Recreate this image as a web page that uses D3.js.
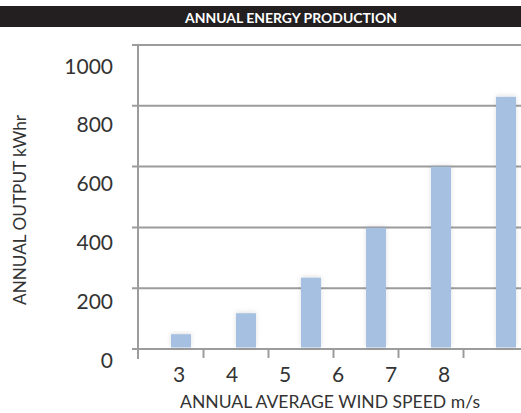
<!DOCTYPE html>
<html><head><meta charset="utf-8">
<script src="https://cdn.jsdelivr.net/npm/d3@7"></script>
<style>body{margin:0;background:#fff}svg{display:block}</style>
</head><body>
<svg id="c" width="521" height="413"></svg>
<script>
const title = "ANNUAL ENERGY PRODUCTION";
const xTitle = "ANNUAL AVERAGE WIND SPEED m/s";
const yTitle = "ANNUAL OUTPUT kWhr";
const windSpeeds = [3, 4, 5, 6, 7, 8];
const outputs = [47, 116, 233, 397, 598, 828];
const yTicks = [0, 200, 400, 600, 800, 1000];
const xTickLabels = ["3", "4", "5", "6", "7", "8"];

const svg = d3.select("#c");
const font = "Lato, 'Open Sans', sans-serif";
const gridCol = "#9c9c9c";

// title bar
svg.append("rect").attr("x",0).attr("y",6).attr("width",521).attr("height",21).attr("fill","#231f20");
svg.append("text").attr("x",291).attr("y",22.5).attr("text-anchor","middle")
  .attr("fill","#fff").attr("font-family",font).attr("font-weight","bold").attr("font-size",14)
  .attr("textLength",212).attr("lengthAdjust","spacingAndGlyphs").text(title);

const y = d3.scaleLinear().domain([0,1000]).range([348.5,44.5]);
const yLab = d3.scaleLinear().domain([0,1000]).range([360,66]);
const x = d3.scaleLinear().domain([3,8]).range([181,506]);
const xLab = d3.scaleLinear().domain([3,8]).range([179,444]);
const axisX = 138;

// gridlines via axis
const gAxis = svg.append("g").attr("transform",`translate(${axisX},0)`)
  .call(d3.axisRight(y).tickValues(yTicks).tickSize(521-axisX).tickFormat(""));
gAxis.select(".domain").remove();
gAxis.selectAll(".tick line").attr("stroke",gridCol).attr("stroke-width",2).attr("x1",-6);

// y axis line
svg.append("line").attr("x1",axisX).attr("x2",axisX).attr("y1",y(1000)).attr("y2",359)
  .attr("stroke",gridCol).attr("stroke-width",2);

// x ticks (between categories)
svg.append("g").selectAll("line").data(windSpeeds.slice(1)).join("line")
  .attr("x1",d=>x(d)-42.5).attr("x2",d=>x(d)-42.5).attr("y1",y(0)).attr("y2",358)
  .attr("stroke",gridCol).attr("stroke-width",2);

// shadow filter
const defs = svg.append("defs");
const f = defs.append("filter").attr("id","sh").attr("x","-50%").attr("y","-20%").attr("width","200%").attr("height","140%");
f.append("feDropShadow").attr("dx",0).attr("dy",-1).attr("stdDeviation",2.5).attr("flood-color","#000").attr("flood-opacity",0.12);

// bars
svg.append("g").selectAll("rect").data(outputs).join("rect")
  .attr("x",(d,i)=>x(windSpeeds[i])-10).attr("width",20)
  .attr("y",d=>y(d)).attr("height",d=>y(0)-y(d)-1)
  .attr("fill","#a5c0e0").attr("filter","url(#sh)");

// y tick labels
svg.append("g").selectAll("text").data(yTicks).join("text")
  .attr("x",113).attr("y",d=>yLab(d)).attr("dy","0.36em").attr("text-anchor","end")
  .attr("font-family",font).attr("font-size",21).attr("fill","#333").text(d=>d);

// x tick labels
svg.append("g").selectAll("text").data(xTickLabels).join("text")
  .attr("x",(d,i)=>xLab(windSpeeds[i])).attr("y",374).attr("dy","0.36em").attr("text-anchor","middle")
  .attr("font-family",font).attr("font-size",21).attr("fill","#333").text(d=>d);

// axis titles
svg.append("text").attr("x",330).attr("y",408).attr("text-anchor","middle")
  .attr("font-family",font).attr("font-size",17).attr("fill","#333")
  .attr("textLength",300).attr("lengthAdjust","spacingAndGlyphs").text(xTitle);
svg.append("text").attr("transform","translate(26,210) rotate(-90)").attr("text-anchor","middle")
  .attr("font-family",font).attr("font-size",17).attr("fill","#333")
  .attr("textLength",190).attr("lengthAdjust","spacingAndGlyphs").text(yTitle);
</script>
</body></html>
